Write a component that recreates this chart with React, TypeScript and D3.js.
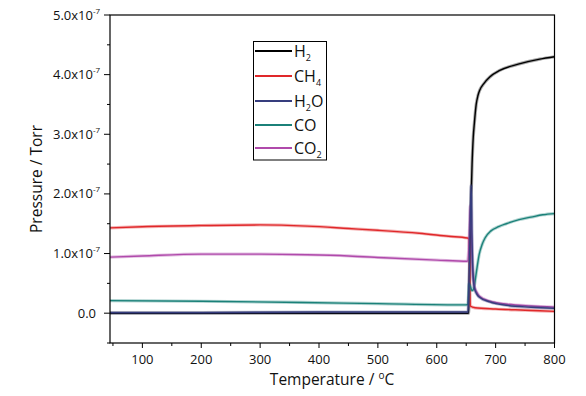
import React from 'react';
import * as d3 from 'd3';

// ---------- data (pressure in units of 1e-7 Torr) ----------
const xMajorTicks = [100, 200, 300, 400, 500, 600, 700, 800];
const xMinorTicks = [50, 150, 250, 350, 450, 550, 650, 750];
const yMajorTicks = [0, 1, 2, 3, 4, 5];
const yMinorTicks = [-0.5, 0.5, 1.5, 2.5, 3.5, 4.5];

const h2T = [45, 300, 600, 654, 656, 658, 660, 662, 664, 667, 670, 673, 680, 690, 707, 740, 775, 800];
const h2V = [0.0, 0.0, 0.0, 0.0, 0.8, 1.8, 2.5, 2.95, 3.2, 3.5, 3.65, 3.74, 3.85, 3.96, 4.07, 4.18, 4.26, 4.3];

const ch4T = [45, 100, 200, 300, 380, 450, 500, 570, 620, 652, 655, 657, 665, 700, 750, 800];
const ch4V = [1.43, 1.45, 1.47, 1.48, 1.46, 1.42, 1.39, 1.34, 1.29, 1.26, 1.24, 0.12, 0.09, 0.07, 0.05, 0.03];

const h2oT = [45, 200, 400, 600, 653, 655, 657, 658.5, 660, 662, 664, 668, 672, 690, 720, 760, 800];
const h2oV = [0.01, 0.01, 0.02, 0.02, 0.02, 0.6, 1.6, 2.14, 1.2, 0.6, 0.42, 0.32, 0.27, 0.19, 0.13, 0.1, 0.08];

const coT = [45, 200, 370, 500, 650, 653, 655, 657, 660, 663, 666, 669, 672, 677, 682, 692, 705, 718, 740, 760, 780, 800];
const coV = [0.21, 0.2, 0.18, 0.16, 0.14, 0.15, 0.5, 0.45, 0.38, 0.42, 0.6, 0.8, 0.98, 1.15, 1.26, 1.38, 1.45, 1.5, 1.57, 1.61, 1.65, 1.67];

const co2T = [45, 100, 200, 300, 380, 450, 510, 600, 652, 655, 657, 659, 661, 664, 668, 672, 690, 720, 760, 800];
const co2V = [0.94, 0.96, 0.99, 0.99, 0.98, 0.96, 0.93, 0.89, 0.87, 1.2, 1.8, 1.3, 0.7, 0.45, 0.35, 0.29, 0.2, 0.15, 0.12, 0.1];

const seriesNames = ['H2', 'CH4', 'H2O', 'CO', 'CO2'];
const seriesColors = ['#000000', '#e0282a', '#363d7e', '#1b8179', '#b04aab'];

type S = { name: string; color: string; t: number[]; v: number[] };
const series: S[] = [
  { name: 'H2', color: seriesColors[0], t: h2T, v: h2V },
  { name: 'CH4', color: seriesColors[1], t: ch4T, v: ch4V },
  { name: 'CO', color: seriesColors[3], t: coT, v: coV },
  { name: 'CO2', color: seriesColors[4], t: co2T, v: co2V },
  { name: 'H2O', color: seriesColors[2], t: h2oT, v: h2oV },
];

const FONT = "'Open Sans', 'Noto Sans', sans-serif";

function Formula({ name, x, y }: { name: string; x: number; y: number }) {
  // render digits as subscripts
  const parts = name.split(/(\d)/).filter((p) => p !== '');
  return (
    <text x={x} y={y} fontFamily={FONT} fontSize={16} fill="#111">
      {parts.map((p, i) =>
        /\d/.test(p) ? (
          <tspan key={i} fontSize={9} dy={4}>{p}</tspan>
        ) : (
          <tspan key={i} dy={i > 0 && /\d/.test(parts[i - 1]) ? -4 : 0}>{p}</tspan>
        )
      )}
    </text>
  );
}

export default function App() {
  const W = 586, H = 396;
  const left = 110, right = 554.5, top = 15, bottom = 343;
  const x = d3.scaleLinear().domain([45, 800]).range([left, right]);
  const y = d3.scaleLinear().domain([-0.5, 5.0]).range([bottom, top]);

  const line = d3
    .line<[number, number]>()
    .x((d) => x(d[0]))
    .y((d) => y(d[1]))
    .curve(d3.curveMonotoneX);

  const legendY = [51, 76, 101, 125, 148];

  return (
    <svg width={W} height={H} style={{ position: 'absolute', left: 0, top: 0, background: '#fff' }}>
      <rect x={0} y={0} width={W} height={H} fill="#fff" />
      {/* data lines */}
      {series.map((s) => {
        const pts = s.t.map((t, i) => [t, s.v[i]] as [number, number]);
        const d = line(pts) || '';
        return (
          <g key={s.name}>
            <path d={d} fill="none" stroke={s.color} strokeWidth={3.2} strokeOpacity={0.35} strokeLinejoin="round" />
            <path d={d} fill="none" stroke={s.color} strokeWidth={1.4} strokeLinejoin="round" />
          </g>
        );
      })}

      {/* frame */}
      <rect x={left} y={top} width={right - left} height={bottom - top} fill="none" stroke="#000" strokeWidth={1.2} />

      {/* x ticks */}
      {xMajorTicks.map((t) => (
        <g key={'xm' + t}>
          <line x1={x(t)} x2={x(t)} y1={bottom} y2={bottom + 5} stroke="#000" strokeWidth={1} />
          <text x={x(t)} y={364} textAnchor="middle" fontFamily={FONT} fontSize={13} fill="#111">{t}</text>
        </g>
      ))}
      {xMinorTicks.map((t) => (
        <line key={'xn' + t} x1={x(t)} x2={x(t)} y1={bottom} y2={bottom + 3} stroke="#000" strokeWidth={1} />
      ))}

      {/* y ticks */}
      {yMajorTicks.map((v) => (
        <g key={'ym' + v}>
          <line x1={left - 6} x2={left} y1={y(v)} y2={y(v)} stroke="#000" strokeWidth={1} />
          {v === 0 ? (
            <text x={96} y={y(v) + 4.5} textAnchor="end" fontFamily={FONT} fontSize={13} fill="#111">0.0</text>
          ) : (
            <text x={53} y={y(v) + 4.5} fontFamily={FONT} fontSize={13} fill="#111">
              {v.toFixed(1) + 'x10'}
              <tspan fontSize={8} dy={-6}>-7</tspan>
            </text>
          )}
        </g>
      ))}
      {yMinorTicks.map((v) => (
        <line key={'yn' + v} x1={left - 3} x2={left} y1={y(v)} y2={y(v)} stroke="#000" strokeWidth={1} />
      ))}

      {/* axis titles */}
      <text x={332} y={385} textAnchor="middle" fontFamily={FONT} fontSize={15.5} fill="#111">
        {'Temperature / '}
        <tspan fontSize={10} dy={-6}>o</tspan>
        <tspan dy={6}>C</tspan>
      </text>
      <text transform="translate(41.5,179) rotate(-90)" textAnchor="middle" fontFamily={FONT} fontSize={15.5} fill="#111">
        Pressure / Torr
      </text>

      {/* legend */}
      <rect x={253.5} y={41.5} width={73} height={118.5} fill="#fff" stroke="#000" strokeWidth={1} />
      {seriesNames.map((n, i) => (
        <g key={'lg' + n}>
          <line x1={255} x2={292} y1={legendY[i]} y2={legendY[i]} stroke={seriesColors[i]} strokeWidth={2} />
          <Formula name={n} x={294} y={legendY[i] + 5.5} />
        </g>
      ))}
    </svg>
  );
}
